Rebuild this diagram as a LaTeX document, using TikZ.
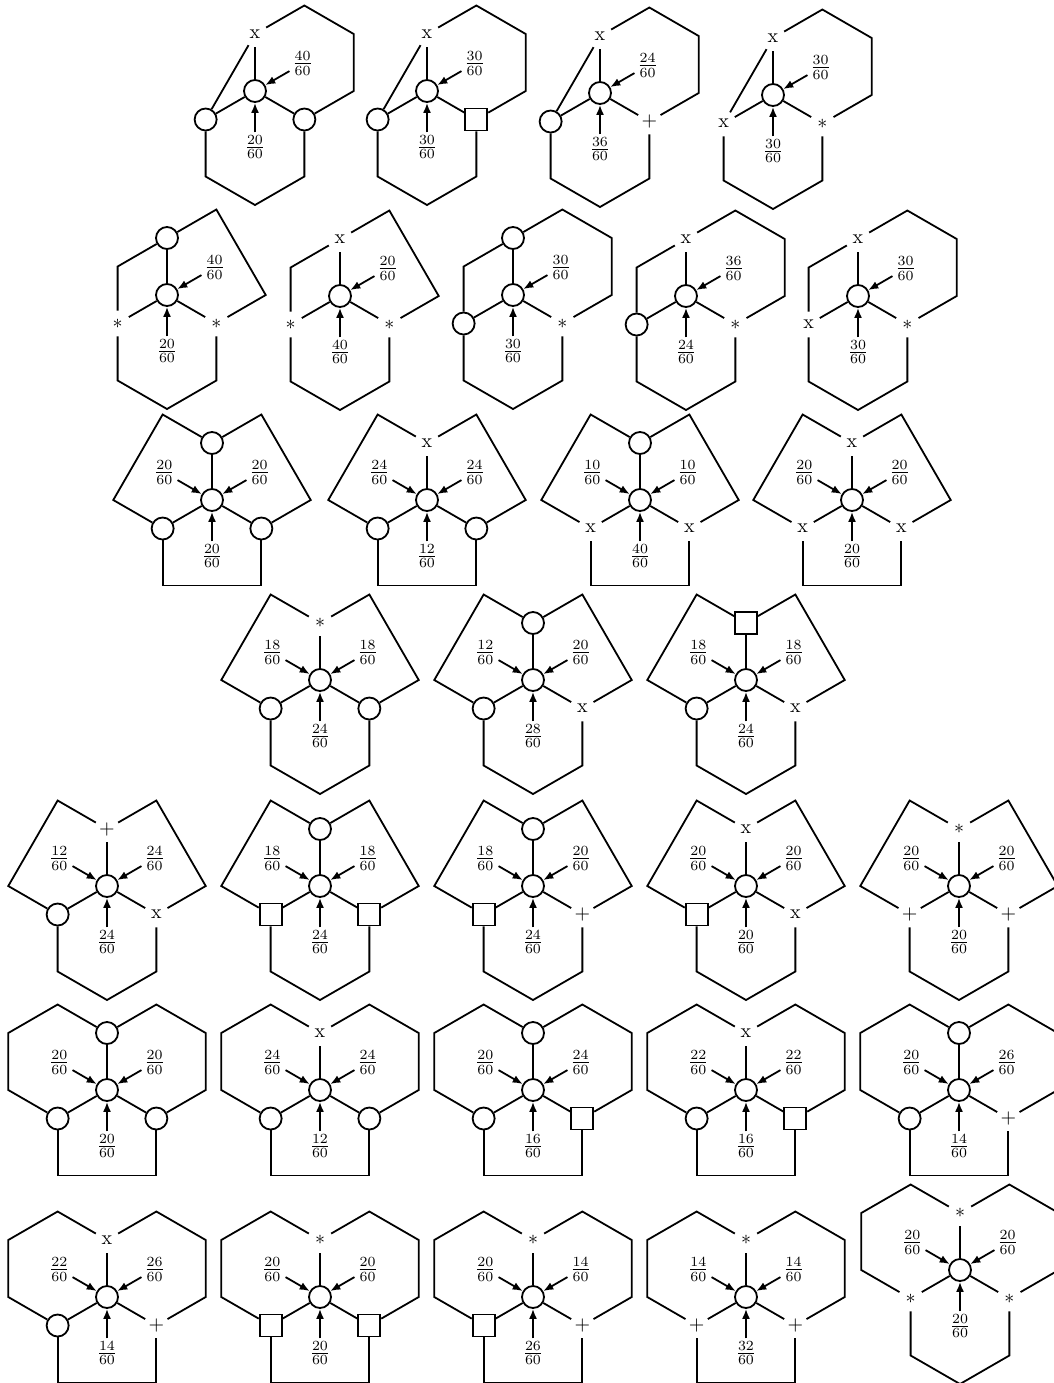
\documentclass[tikz,border=0pt]{standalone}
\usetikzlibrary{arrows.meta}
\tikzset{
  edge/.style={line width=0.9pt},
  vo/.style={circle,draw,line width=0.9pt,minimum size=11pt,inner sep=0pt},
  vs/.style={rectangle,draw,line width=0.9pt,minimum size=11pt,inner sep=0pt},
  vt/.style={circle,minimum size=12.5pt,inner sep=0pt},
  lab/.style={inner sep=1.2pt},
  arr/.style={line width=0.9pt,-{Latex[length=5pt,width=4pt]}},
}
\newcommand\Vo[2]{\node[vo] (#1) at (#2) {};}
\newcommand\Vs[2]{\node[vs] (#1) at (#2) {};}
\newcommand\Vx[2]{\node[vt] (#1) at (#2) {x};}
\newcommand\Va[2]{\node[vt] (#1) at (#2) {$*$};}
\newcommand\Vp[2]{\node[vt] (#1) at (#2) {$+$};}
\newcommand\TLt[1]{\draw[edge] (#1A) -- (#1B);}
\newcommand\TLr[1]{\draw[edge] (#1A) -- (-49.36,-28.5) -- (#1B);}
\newcommand\TLp[1]{\draw[edge] (#1A) -- (-49.36,-85.5) -- (-98.73,0) -- (#1B);}
\newcommand\TLh[1]{\draw[edge] (#1A) -- (-49.36,-85.5) -- (-98.73,-57) -- (-98.73,0) -- (#1B);}
\newcommand\TRp[1]{\draw[edge] (#1A) -- (49.36,-85.5) -- (98.73,0) -- (#1D);}
\newcommand\TRh[1]{\draw[edge] (#1A) -- (49.36,-85.5) -- (98.73,-57) -- (98.73,0) -- (#1D);}
\newcommand\BOp[1]{\draw[edge] (#1B) -- (-49.36,85.5) -- (49.36,85.5) -- (#1D);}
\newcommand\BOh[1]{\draw[edge] (#1B) -- (-49.36,85.5) -- (0,114) -- (49.36,85.5) -- (#1D);}
% #1 prefix, #2 position, #3 A type, #4 B type, #5 D type, #6 TL face, #7 TR face, #8 bottom face
\newcommand\fig[8]{%
  \begin{scope}[shift={(#2)}]
    \node[vo] (#1C) at (0,0) {};
    \csname V#3\endcsname{#1A}{0,-57}
    \csname V#4\endcsname{#1B}{-49.36,28.5}
    \csname V#5\endcsname{#1D}{49.36,28.5}
    \draw[edge] (#1C) -- (#1A);
    \draw[edge] (#1C) -- (#1B);
    \draw[edge] (#1C) -- (#1D);
    \csname TL#6\endcsname{#1}
    \csname TR#7\endcsname{#1}
    \csname BO#8\endcsname{#1}
  \end{scope}}
% #1 prefix, #2 top-left, #3 top-right, #4 bottom
\newcommand\Arr[4]{%
  \if\relax\detokenize{#2}\relax\else
    \node[lab] (#1ltl) at ([shift={(-47.6,-27.5)}]#1C.center) {$\frac{#2}{60}$};
    \draw[arr] (#1ltl) -- (#1C);\fi
  \if\relax\detokenize{#3}\relax\else
    \node[lab] (#1ltr) at ([shift={(47.6,-27.5)}]#1C.center) {$\frac{#3}{60}$};
    \draw[arr] (#1ltr) -- (#1C);\fi
  \if\relax\detokenize{#4}\relax\else
    \node[lab] (#1lbo) at ([shift={(0,56)}]#1C.center) {$\frac{#4}{60}$};
    \draw[arr] (#1lbo) -- (#1C);\fi}
\begin{document}
\begin{tikzpicture}[x=0.5pt,y=-0.5pt]
\useasboundingbox (0,0) rectangle (1054,1383);
% row 1
\fig{a1}{255,91}{x}{o}{o}{t}{h}{h} \Arr{a1}{}{40}{20}
\fig{a2}{427,91}{x}{o}{s}{t}{h}{h} \Arr{a2}{}{30}{30}
\fig{a3}{600,93}{x}{o}{p}{t}{h}{h} \Arr{a3}{}{24}{36}
\fig{a4}{773,95}{x}{x}{a}{t}{h}{h} \Arr{a4}{}{30}{30}
% row 2
\fig{b1}{167,295}{o}{a}{a}{r}{p}{h} \Arr{b1}{}{40}{20}
\fig{b2}{340,296}{x}{a}{a}{r}{p}{h} \Arr{b2}{}{20}{40}
\fig{b3}{513,295}{o}{o}{a}{r}{h}{h} \Arr{b3}{}{30}{30}
\fig{b4}{686,296}{x}{o}{a}{r}{h}{h} \Arr{b4}{}{36}{24}
\fig{b5}{858,296}{x}{x}{a}{r}{h}{h} \Arr{b5}{}{30}{30}
% row 3
\fig{c1}{212,500}{o}{o}{o}{p}{p}{p} \Arr{c1}{20}{20}{20}
\fig{c2}{427,500}{x}{o}{o}{p}{p}{p} \Arr{c2}{24}{24}{12}
\fig{c3}{640,500}{o}{x}{x}{p}{p}{p} \Arr{c3}{10}{10}{40}
\fig{c4}{852,500}{x}{x}{x}{p}{p}{p} \Arr{c4}{20}{20}{20}
% row 4
\fig{d1}{320,680}{a}{o}{o}{p}{p}{h} \Arr{d1}{18}{18}{24}
\fig{d2}{533,680}{o}{o}{x}{p}{p}{h} \Arr{d2}{12}{20}{28}
\fig{d3}{746,680}{s}{o}{x}{p}{p}{h} \Arr{d3}{18}{18}{24}
% row 5
\fig{e1}{107,886}{p}{o}{x}{p}{p}{h} \Arr{e1}{12}{24}{24}
\fig{e2}{320,886}{o}{s}{s}{p}{p}{h} \Arr{e2}{18}{18}{24}
\fig{e3}{533,886}{o}{s}{p}{p}{p}{h} \Arr{e3}{18}{20}{24}
\fig{e4}{746,886}{x}{s}{x}{p}{p}{h} \Arr{e4}{20}{20}{20}
\fig{e5}{959,886}{a}{p}{p}{p}{p}{h} \Arr{e5}{20}{20}{20}
% row 6
\fig{f1}{107,1090}{o}{o}{o}{h}{h}{p} \Arr{f1}{20}{20}{20}
\fig{f2}{320,1090}{x}{o}{o}{h}{h}{p} \Arr{f2}{24}{24}{12}
\fig{f3}{533,1090}{o}{o}{s}{h}{h}{p} \Arr{f3}{20}{24}{16}
\fig{f4}{746,1090}{x}{o}{s}{h}{h}{p} \Arr{f4}{22}{22}{16}
\fig{f5}{959,1090}{o}{o}{p}{h}{h}{p} \Arr{f5}{20}{26}{14}
% row 7
\fig{g1}{107,1297}{x}{o}{p}{h}{h}{p} \Arr{g1}{22}{26}{14}
\fig{g2}{320,1297}{a}{s}{s}{h}{h}{p} \Arr{g2}{20}{20}{20}
\fig{g3}{533,1297}{a}{s}{p}{h}{h}{p} \Arr{g3}{20}{14}{26}
\fig{g4}{746,1297}{a}{p}{p}{h}{h}{p} \Arr{g4}{14}{14}{32}
\fig{g5}{960,1270}{a}{a}{a}{h}{h}{h} \Arr{g5}{20}{20}{20}
\end{tikzpicture}
\end{document}
